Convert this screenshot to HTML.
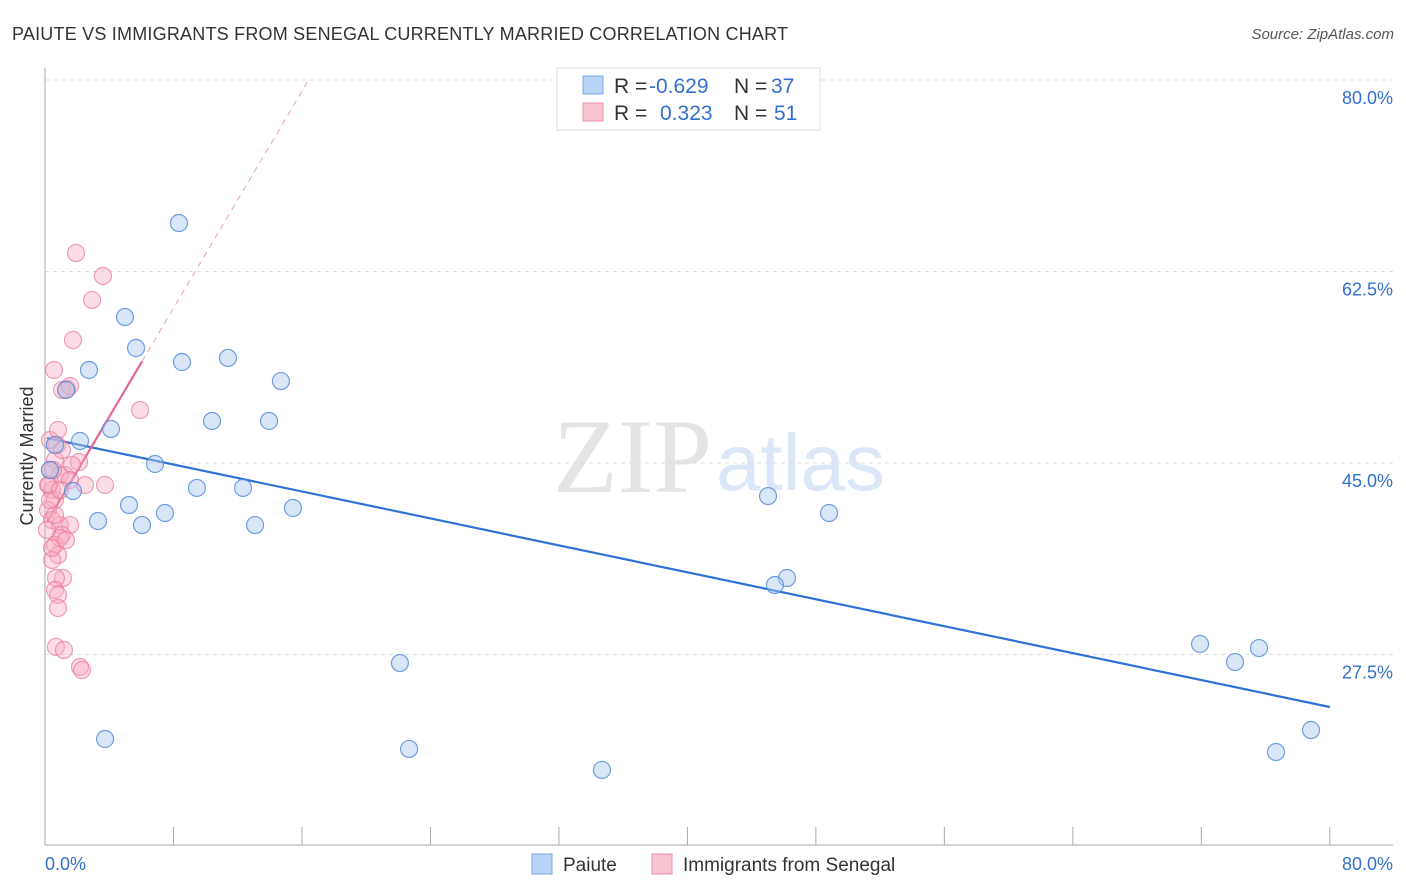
<!DOCTYPE html>
<html><head><meta charset="utf-8"><style>
body{margin:0;background:#fff;font-family:"Liberation Sans",sans-serif}
svg{display:block}
</style></head><body>
<svg id="chart" width="1406" height="892" viewBox="0 0 1406 892" xmlns="http://www.w3.org/2000/svg">
<text x="12" y="40" font-size="18" fill="#333" textLength="776" font-family="Liberation Sans, sans-serif">PAIUTE VS IMMIGRANTS FROM SENEGAL CURRENTLY MARRIED CORRELATION CHART</text>
<text x="1394" y="39" font-size="15" fill="#555" text-anchor="end" font-style="italic" font-family="Liberation Sans, sans-serif">Source: ZipAtlas.com</text>
<g>
<text x="553" y="492" font-size="106" fill="#e4e4e4" font-family="Liberation Serif, serif">ZIP</text>
<text x="716" y="490" font-size="80" fill="#dbe7f7" font-family="Liberation Sans, sans-serif">atlas</text>
</g>
<g id="grid"></g><g id="axes"></g><g id="lines"></g><g id="pts"></g>
<text transform="translate(33,456) rotate(-90)" font-size="18" fill="#333" text-anchor="middle" font-family="Liberation Sans, sans-serif">Currently Married</text>
<g>
<rect x="557" y="68" width="263" height="62" fill="#fff" stroke="#ddd"/>
<rect x="583" y="76" width="20" height="18" fill="#b9d3f6" stroke="#7aa7e6"/>
<rect x="583" y="103" width="20" height="18" fill="#fac5d3" stroke="#ee90ab"/>
<g font-size="21" font-family="Liberation Sans, sans-serif">
<text x="614" y="93" fill="#333">R =</text><text x="649" y="93" fill="#3370cc">-0.629</text>
<text x="734" y="93" fill="#333">N =</text><text x="771" y="93" fill="#3370cc">37</text>
<text x="614" y="120" fill="#333">R =</text><text x="660" y="120" fill="#3370cc">0.323</text>
<text x="734" y="120" fill="#333">N =</text><text x="774" y="120" fill="#3370cc">51</text>
</g></g>
<g font-size="19" font-family="Liberation Sans, sans-serif">
<rect x="532" y="854" width="20" height="20" fill="#b9d3f6" stroke="#7aa7e6"/>
<text x="563" y="871" fill="#333">Paiute</text>
<rect x="652" y="854" width="20" height="20" fill="#fac5d3" stroke="#ee90ab"/>
<text x="683" y="871" fill="#333">Immigrants from Senegal</text>
</g>
</svg>
<script>
const yTicks=[27.5,45.0,62.5,80.0];
const yTickLabels=["27.5%","45.0%","62.5%","80.0%"];
const xTicks=[0,8,16,24,32,40,48,56,64,72,80];
const blueX=[8.34,4.98,5.67,8.53,11.39,2.74,14.69,1.31,10.40,13.95,4.11,2.18,0.62,6.85,1.74,9.46,12.33,5.23,15.44,3.30,6.04,7.47,13.08,45.02,48.82,46.20,45.45,22.10,71.92,74.10,75.59,3.74,22.67,34.68,76.65,78.83,0.31];
const blueY=[66.93,58.34,55.51,54.23,54.60,53.50,52.49,51.67,48.84,48.84,48.11,47.01,46.65,44.91,42.44,42.72,42.72,41.16,40.89,39.70,39.33,40.43,39.33,41.98,40.43,34.49,33.85,26.72,28.46,26.81,28.09,19.78,18.87,16.95,18.59,20.60,44.36];
const pinkX=[1.93,3.61,2.93,1.74,0.56,1.37,1.06,1.56,5.92,0.75,2.12,2.49,3.74,0.62,0.31,0.93,0.44,0.62,0.19,0.44,0.93,1.56,1.06,0.62,0.81,0.44,1.12,0.68,0.62,0.81,0.81,0.68,1.18,2.18,2.30,1.25,1.68,0.19,0.31,0.93,0.44,0.12,1.56,1.06,0.31,0.81,0.62,1.31,0.25,0.50,0.93];
const pinkY=[64.19,62.09,59.90,56.24,53.50,51.76,51.67,52.04,49.84,46.65,45.09,42.99,42.99,45.27,44.36,43.90,42.53,41.62,40.71,39.79,39.33,39.33,38.42,37.51,36.59,36.14,34.49,34.49,33.40,32.94,31.75,28.19,27.91,26.36,26.08,43.90,44.82,42.99,41.62,38.15,37.23,38.88,43.45,46.19,47.10,48.02,40.25,37.96,42.99,44.36,42.53];
const blueLine=[47.32,-0.3077];
const pinkLine=[39.3,2.48];
const X=v=>45+v*16.06, Y=v=>80+(80-v)*10.943;
const NS="http://www.w3.org/2000/svg";
function mk(p,t,a){const e=document.createElementNS(NS,t);for(const k in a)e.setAttribute(k,a[k]);document.getElementById(p).appendChild(e);return e;}
yTicks.forEach((t,i)=>{
 const g=mk('grid','line',{x1:45,x2:1393,y1:Y(t),y2:Y(t),stroke:'#ddd','stroke-dasharray':'4,4'});
 
 
 const l=mk('axes','text',{x:1393,y:Y(t)+24,'text-anchor':'end','font-size':18,fill:'#3370cc'});
 
 
 l.textContent=yTickLabels[i];
});
const ax=mk('axes','path',{d:'M45,68V845H1393',fill:'none',stroke:'#aaa'});


xTicks.forEach(t=>{
 const k=mk('axes','line',{x1:X(t),x2:X(t),y1:845,y2:827,stroke:'#aaa'});
 
 
});
const xl0=mk('axes','text',{x:45,y:870,'font-size':18,fill:'#3370cc'});


xl0.textContent='0.0%';
const xl1=mk('axes','text',{x:1393,y:870,'text-anchor':'end','font-size':18,fill:'#3370cc'});


xl1.textContent='80.0%';
function pts(xs,ys,fill,stroke,name){xs.forEach((x,i)=>{
 const c=mk('pts','circle',{cx:X(x),cy:Y(ys[i]),r:8.5,fill:fill,stroke:stroke,'stroke-width':1.2});
 
 
});}
pts(pinkX,pinkY,'rgba(247,170,192,0.4)','rgba(232,120,155,0.7)','senegal-point');
pts(blueX,blueY,'rgba(170,200,240,0.45)','rgba(80,135,215,0.8)','paiute-point');
const bl=mk('lines','line',{x1:X(0.12),y1:Y(blueLine[0]+blueLine[1]*0.12),x2:X(80),y2:Y(blueLine[0]+blueLine[1]*80),stroke:'#2f72d6','stroke-width':2.2});


const pl=mk('lines','line',{x1:X(0.12),y1:Y(pinkLine[0]+pinkLine[1]*0.12),x2:X(6.04),y2:Y(pinkLine[0]+pinkLine[1]*6.04),stroke:'#e5668e','stroke-width':2.2});


const xe=(80-pinkLine[0])/pinkLine[1];
const pd=mk('lines','line',{x1:X(6.04),y1:Y(pinkLine[0]+pinkLine[1]*6.04),x2:X(xe),y2:Y(80),stroke:'#eaa0b6','stroke-width':1,'stroke-dasharray':'6,5'});


</script>
</body></html>
